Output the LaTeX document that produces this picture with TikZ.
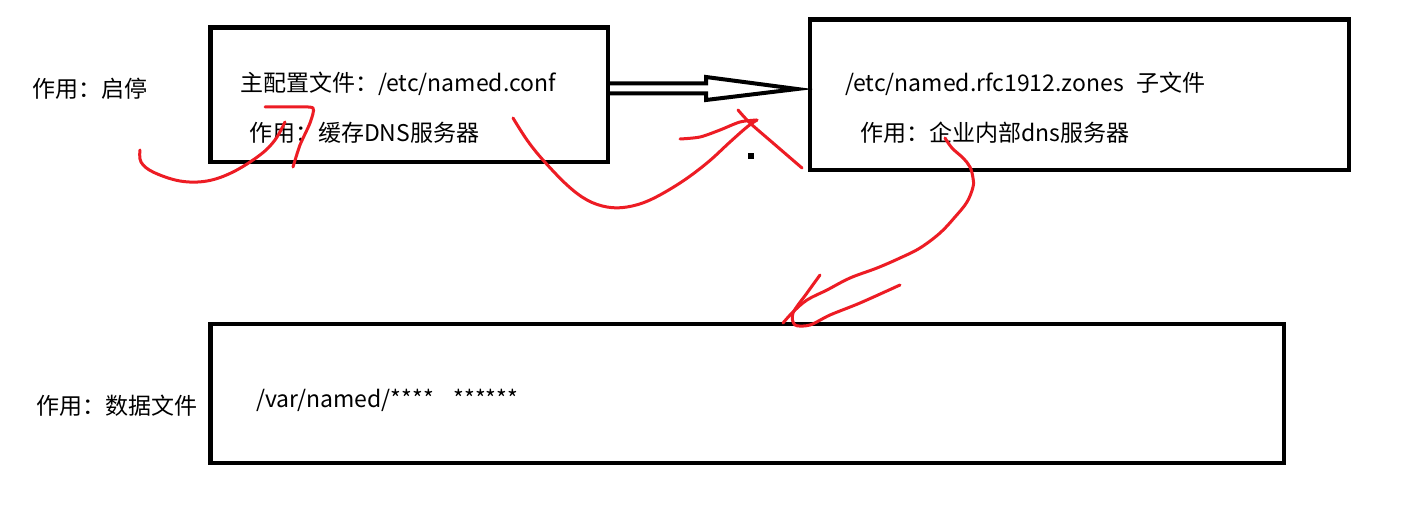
\documentclass[tikz,border=0pt]{standalone}
\usepackage{fontspec}
\setmainfont{Noto Sans CJK SC}
\definecolor{penred}{RGB}{237,28,36}
\begin{document}
\begin{tikzpicture}[x=1pt,y=-1pt,
  box/.style={draw=black,line width=4.5pt,inner sep=0pt,outer sep=0pt,fill=none},
  txt/.style={anchor=base west,inner sep=0pt,outer sep=0pt,font=\fontsize{23}{27}\selectfont},
  pen/.style={draw=penred,line width=3pt,line cap=round,line join=round},
  hollow/.style={draw=black,line width=4pt,line join=miter}]
\useasboundingbox[fill=white] (0,0) rectangle (1403,521);
% boxes
\node[box,minimum width=397.5pt,minimum height=134.5pt] (b1) at (409.25,94.75) {};
\node[box,minimum width=539pt,minimum height=150.5pt] (b2) at (1079.5,94.75) {};
\node[box,minimum width=1073.5pt,minimum height=139pt] (b3) at (747.25,393.5) {};
% texts
\node[txt] (t1) at (32,98) {作用：启停};
\node[txt] (t2) at (240,92) {主配置文件：/etc/named.conf};
\node[txt] (t3) at (249,142) {作用：缓存DNS服务器};
\node[txt] (t4) at (845,92) {/etc/named.rfc1912.zones\hspace{13pt}子文件};
\node[txt] (t5) at (860,142) {作用：企业内部dns服务器};
\node[txt] (t6) at (36,414) {作用：数据文件};
\node[txt] (t7) at (256,407) {/var/named/****\hspace{20pt}******};
% hollow arrow from box 1 to box 2
\coordinate (tip) at (797,89);
\draw[hollow] (b1.east|-0,83.5) -- (706,83.5) -- (706,77) -- (tip) -- (706,100) -- (706,93.5) -- (b1.east|-0,93.5);
% small dot
\fill[black] (747.5,153.5) rectangle (753.5,159.5);
% red scribbles
\draw[pen] plot[smooth,tension=0.6] coordinates {(140,150) (141,162) (153,172) (180,181) (207,181) (233,172) (260,155) (275,140) (285,122)};
\draw[pen] plot[smooth,tension=0.4] coordinates {(265,107) (293,107) (313,108) (310,123) (300,145) (293,167)};
\draw[pen] plot[smooth,tension=0.6] coordinates {(513,118) (527,140) (543,160) (567,185) (587,200) (607,207) (627,207) (650,200) (680,183) (707,163) (730,142) (747,127) (757,120)};
\draw[pen] plot[smooth,tension=0.5] coordinates {(680,139) (700,137) (720,130) (740,122) (757,120)};
\draw[pen] plot[smooth,tension=0.5] coordinates {(738,110) (750,123) (773,143) (802,168)};
\draw[pen] plot[smooth,tension=0.6] coordinates {(945,138) (952,148) (963,158) (970,167) (973,178) (973,187) (967,202) (955,217) (940,233) (920,248) (900,258) (877,268) (850,278) (827,290) (807,300) (793,312) (783,323)};
\draw[pen] plot[smooth,tension=0.5] coordinates {(820,275) (807,293) (793,313) (795,325) (810,325) (830,315) (860,303) (900,285)};
\end{tikzpicture}
\end{document}
